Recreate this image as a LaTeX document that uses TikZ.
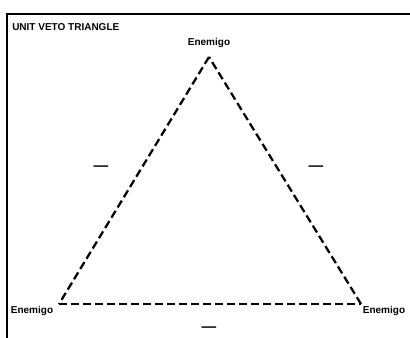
\documentclass[tikz,border=0pt]{standalone}
\usepackage{fontspec}
\setmainfont{Liberation Sans}
\usetikzlibrary{positioning}

\tikzset{
    lbl/.style={font=\bfseries\fontsize{7.5}{8}\selectfont, inner sep=0pt},
    sgn/.style={font=\bfseries\fontsize{11}{12}\selectfont, inner sep=0pt},
    edge/.style={line width=1.7pt, dash pattern=on 6pt off 3pt}
}

\begin{document}
\begin{tikzpicture}[x=0.75pt, y=-0.75pt]
    \useasboundingbox (0,0) rectangle (410,338);

    % Frame (top and left edges)
    \draw[line width=1.6pt] (410,14) -- (7,14) -- (7,338);

    % Title
    \node[lbl, anchor=west] (title) at (12,27) {UNIT VETO TRIANGLE};

    % Corners
    \coordinate (apex) at (209,57);
    \coordinate (bl) at (59,304);
    \coordinate (br) at (361,304);

    % Triangle sides (dashed)
    \draw[edge] (apex) -- (bl);
    \draw[edge] (bl) -- (br);
    \draw[edge] (br) -- (apex);

    % Corner labels
    \node[lbl] (top) at (209,43) {Enemigo};
    \node[lbl] (left) at (32,311) {Enemigo};
    \node[lbl] (right) at (384,311) {Enemigo};

    % Signs on the sides
    \node[sgn] (sl) at (101,168) {—};
    \node[sgn] (sr) at (316,168) {—};
    \node[sgn] (sb) at (209,329) {—};
\end{tikzpicture}
\end{document}
